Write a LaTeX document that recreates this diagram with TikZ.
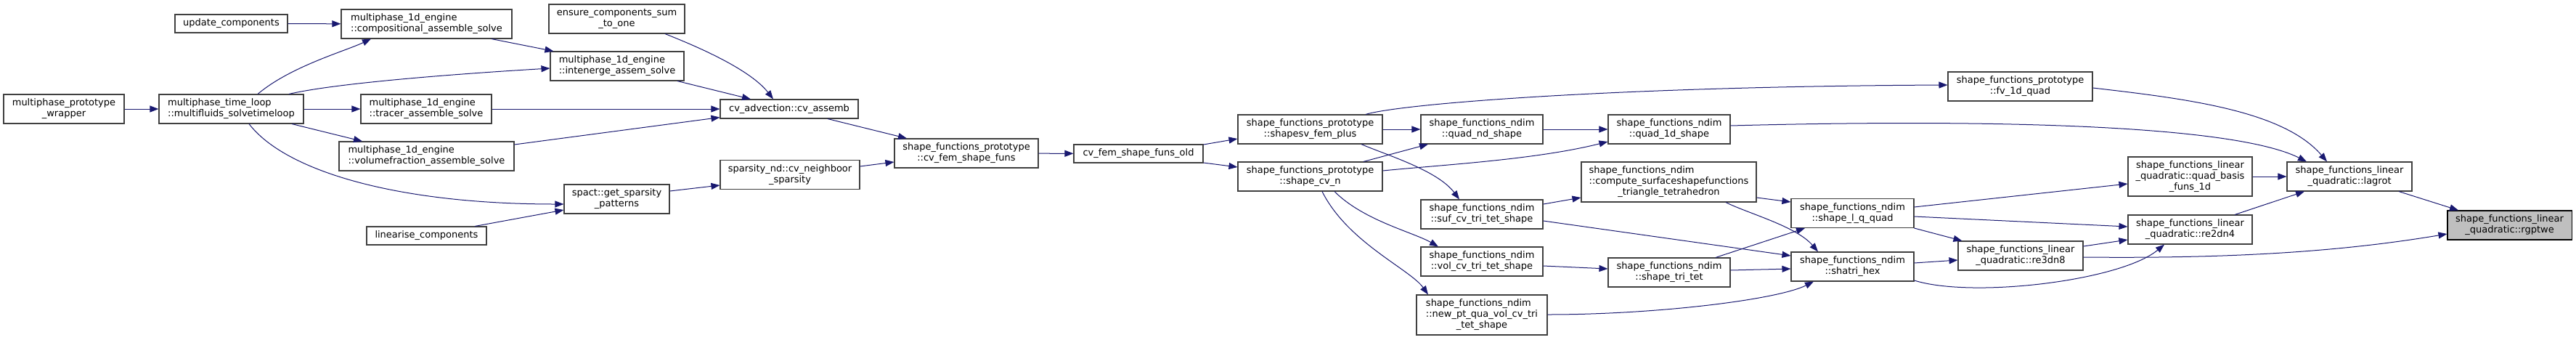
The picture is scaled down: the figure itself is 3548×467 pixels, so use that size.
\documentclass[tikz,border=0pt]{standalone}
\usepackage{fontspec}
\setmainfont{DejaVu Sans}
\usepackage{tikz}
\usetikzlibrary{arrows.meta,positioning,calc}
\definecolor{edgeblue}{RGB}{25,25,112}
\definecolor{boxline}{RGB}{64,64,64}
\definecolor{focusfill}{RGB}{191,191,191}

\begin{document}
\begin{tikzpicture}[
            x=1pt, y=-1pt,
            fn/.style={rectangle, draw=boxline, line width=1.1pt, fill=white, inner xsep=3pt, inner ysep=2pt, minimum height=40, align=center, font=\fontsize{13}{15}\selectfont},
            flat/.style={fn, minimum height=25},
            tall/.style={fn, minimum height=55},
            focus/.style={fn, draw=black, fill=focusfill},
            call/.style={draw=edgeblue, line width=1pt, -{Triangle[length=12pt, width=9pt]}}
        ]
\useasboundingbox (0,0) rectangle (3548,467);

% --- multiphase side ---
            \node[fn, minimum width=166] (wrap) at (88,150) {multiphase\_prototype\\\_wrapper};
            \node[fn, align=left, minimum width=199] (tloop) at (318.5,150) {multiphase\_time\_loop\\::multifluids\_solvetimeloop};
            \node[flat, minimum width=155] (upd) at (318.5,32.5) {update\_components};

            \node[fn, align=left, minimum width=235] (comp) at (587.5,33) {multiphase\_1d\_engine\\::compositional\_assemble\_solve};
            \node[fn, align=left, minimum width=180] (tracer) at (587,150) {multiphase\_1d\_engine\\::tracer\_assemble\_solve};
            \node[fn, align=left, minimum width=241] (volfr) at (587.5,215) {multiphase\_1d\_engine\\::volumefraction\_assemble\_solve};
            \node[flat, minimum width=165] (linear) at (587.5,324.5) {linearise\_components};

            \node[fn, minimum width=187] (ensure) at (849.5,26) {ensure\_components\_sum\\\_to\_one};
            \node[fn, align=left, minimum width=184] (inten) at (850,91) {multiphase\_1d\_engine\\::intenerge\_assem\_solve};
            \node[fn, minimum width=145] (spact) at (849.5,274) {spact::get\_sparsity\\\_patterns};

            \node[flat, minimum width=190, minimum height=26] (cvadv) at (1087,150) {cv\_advection::cv\_assemb};
            \node[fn, minimum width=192] (sparsnd) at (1088,240.5) {sparsity\_nd::cv\_neighboor\\\_sparsity};

% --- shape function chain ---
            \node[fn, minimum width=198] (cvfem) at (1331,211) {shape\_functions\_prototype\\::cv\_fem\_shape\_funs};
            \node[flat, minimum width=178] (cvold) at (1568,211.5) {cv\_fem\_shape\_funs\_old};
            \node[fn, minimum width=199] (shapesv) at (1804.5,178) {shape\_functions\_prototype\\::shapesv\_fem\_plus};
            \node[fn, minimum width=199] (shapecvn) at (1804.5,243) {shape\_functions\_prototype\\::shape\_cv\_n};

            \node[fn, minimum width=168] (quadnd) at (2041,178) {shape\_functions\_ndim\\::quad\_nd\_shape};
            \node[fn, minimum width=168] (sufcv) at (2041,295) {shape\_functions\_ndim\\::suf\_cv\_tri\_tet\_shape};
            \node[fn, minimum width=168] (volcv) at (2041,360) {shape\_functions\_ndim\\::vol\_cv\_tri\_tet\_shape};
            \node[tall, minimum width=180] (newpt) at (2041,433.5) {\rlap{shape\_functions\_ndim}\phantom{::new\_pt\_qua\_vol\_cv\_tri}\\::new\_pt\_qua\_vol\_cv\_tri\\\_tet\_shape};

            \node[fn, minimum width=168] (quad1d) at (2299,178) {shape\_functions\_ndim\\::quad\_1d\_shape};
            \node[tall, minimum width=241] (compsurf) at (2298.5,250.5) {\rlap{shape\_functions\_ndim}\phantom{::compute\_surfaceshapefunctions}\\::compute\_surfaceshapefunctions\\\_triangle\_tetrahedron};
            \node[fn, minimum width=168] (shtritet) at (2299,375) {shape\_functions\_ndim\\::shape\_tri\_tet};

            \node[fn, minimum width=169] (shlq) at (2551.5,293.5) {shape\_functions\_ndim\\::shape\_l\_q\_quad};
            \node[fn, minimum width=169] (shatri) at (2551.5,367) {shape\_functions\_ndim\\::shatri\_hex};

% --- linear quadratic side ---
            \node[fn, minimum width=199] (fv1d) at (2782.5,119) {shape\_functions\_prototype\\::fv\_1d\_quad};
            \node[fn, minimum width=172] (re3dn8) at (2783,352) {shape\_functions\_linear\\\_quadratic::re3dn8};
            \node[tall, minimum width=171, minimum height=54] (qbasis) at (3016.5,243) {shape\_functions\_linear\\\_quadratic::quad\_basis\\\_funs\_1d};
            \node[fn, minimum width=171] (re2dn4) at (3016.5,316) {shape\_functions\_linear\\\_quadratic::re2dn4};
            \node[fn, minimum width=172] (lagrot) at (3236,243) {shape\_functions\_linear\\\_quadratic::lagrot};
            \node[focus, minimum width=171] (rgptwe) at (3456.5,310) {shape\_functions\_linear\\\_quadratic::rgptwe};

% --- calls, left part ---
            \draw[call] (wrap) -- (tloop);
            \draw[call] (upd) -- (comp);
            \draw[call] ($(tloop.north)+(36.5,0)$) .. controls +(45,-38) and +(-36,17) .. ($(comp.south)+(-76.5,0)$);
            \draw[call] ($(tloop.north)+(79.5,0)$) .. controls +(60,-14) and +(-150,9) .. ($(inten.west)+(0,3)$);
            \draw[call] (tloop) -- (tracer);
            \draw[call] ($(tloop.south)+(83.5,0)$) -- ($(volfr.north)+(-88.5,0)$);
            \draw[call] ($(tloop.south)+(24.5,0)$) .. controls +(50,65) and +(-230,0) .. ($(spact.west)+(0,7)$);
            \draw[call] ($(comp.south)+(89.5,0)$) -- ($(inten.north west)+(5,0)$);
            \draw[call] ($(linear.north)+(66.5,0)$) -- ($(spact.west)+(0,15)$);

            \draw[call] ($(ensure.south)+(66.5,0)$) .. controls +(25,10) and +(-35,-45) .. ($(cvadv.north)+(-22,0)$);
            \draw[call] ($(inten.south)+(83,0)$) -- ($(cvadv.north)+(-53,0)$);
            \draw[call] (tracer) -- (cvadv);
            \draw[call] ($(volfr.east)+(0,-16)$) -- ($(cvadv.south west)+(0,-2)$);
            \draw[call] ($(spact.east)+(0,-11)$) -- ($(sparsnd.west)+(0,14.5)$);

            \draw[call] ($(cvadv.south)+(53,0)$) -- ($(cvfem.north)+(-82,0)$);
            \draw[call] ($(sparsnd.east)+(0,-11.5)$) -- ($(cvfem.west)+(0,12)$);
            \draw[call] (cvfem) -- (cvold);
            \draw[call] ($(cvold.east)+(0,-12.5)$) -- ($(shapesv.west)+(0,13)$);
            \draw[call] ($(cvold.east)+(0,12.5)$) -- ($(shapecvn.west)+(0,-13)$);

% --- calls, middle part ---
            \draw[call] (shapesv) -- (quadnd);
            \draw[call] ($(shapesv.north)+(76.5,0)$) .. controls +(50,-15) and +(-450,2) .. ($(fv1d.west)+(0,-2)$);
            \draw[call] ($(shapesv.south)+(70.5,0)$) .. controls +(35,15) and +(-30,-40) .. ($(sufcv.north)+(-31,0)$);
            \draw[call] ($(shapecvn.north)+(73.5,0)$) -- ($(quadnd.south)+(-74,0)$);
            \draw[call] ($(shapecvn.east)+(0,-8)$) .. controls +(80,-8) and +(-100,25) .. ($(quad1d.west)+(0,17)$);
            \draw[call] ($(shapecvn.south)+(33.5,0)$) .. controls +(40,40) and +(-35,-20) .. ($(volcv.north)+(-60,0)$);
            \draw[call] ($(shapecvn.south)+(16.5,0)$) .. controls +(35,70) and +(-25,-35) .. ($(newpt.north)+(-74,0)$);
            \draw[call] (quadnd) -- (quad1d);

            \draw[call] ($(sufcv.east)+(0,-14)$) -- ($(compsurf.west)+(0,21.5)$);
            \draw[call] ($(sufcv.east)+(0,9)$) -- ($(shatri.west)+(0,-15)$);
            \draw[call] ($(compsurf.east)+(0,21.5)$) -- ($(shlq.west)+(0,-15.5)$);
            \draw[call] ($(compsurf.south)+(78.5,0)$) .. controls +(30,15) and +(-30,-35) .. ($(shatri.north)+(-47.5,0)$);
            \draw[call] ($(volcv.east)+(0,6)$) -- ($(shtritet.west)+(0,-5)$);
            \draw[call] ($(shtritet.north)+(64,0)$) -- ($(shlq.south)+(-65.5,0)$);
            \draw[call] ($(shtritet.east)+(0,-3)$) -- ($(shatri.west)+(0,3)$);
            \draw[call] ($(newpt.east)+(0,-0.5)$) .. controls +(150,0) and +(-50,25) .. ($(shatri.south)+(-53.5,0)$);

% --- calls, right part ---
            \draw[call] ($(quad1d.east)+(0,-5)$) .. controls +(300,-8) and +(-110,-55) .. ($(lagrot.north)+(-59,0)$);
            \draw[call] ($(fv1d.east)+(0,2)$) .. controls +(130,15) and +(-60,-70) .. ($(lagrot.north)+(-31,0)$);
            \draw[call] ($(shlq.east)+(0,-8.5)$) -- ($(qbasis.west)+(0,10)$);
            \draw[call] ($(shlq.east)+(0,4.5)$) -- ($(re2dn4.west)+(0,-4)$);
            \draw[call] (shlq.south east) -- ($(re3dn8.north west)+(6,0)$);
            \draw[call] ($(shatri.east)+(0,-5)$) -- ($(re3dn8.west)+(0,6)$);
            \draw[call] ($(shatri.east)+(0,19)$) .. controls +(80,25) and +(-60,50) .. ($(re2dn4.south)+(-35.5,0)$);
            \draw[call] ($(re3dn8.east)+(0,-13)$) -- ($(re2dn4.west)+(0,14)$);
            \draw[call] ($(re3dn8.east)+(0,2)$) .. controls +(200,2) and +(-150,25) .. ($(rgptwe.west)+(0,12)$);
            \draw[call] (qbasis) -- (lagrot);
            \draw[call] ($(re2dn4.north)+(61.5,0)$) -- ($(lagrot.south)+(-62,0)$);
            \draw[call] ($(lagrot.south)+(68,0)$) -- ($(rgptwe.north)+(-70.5,0)$);

        \end{tikzpicture}
\end{document}
